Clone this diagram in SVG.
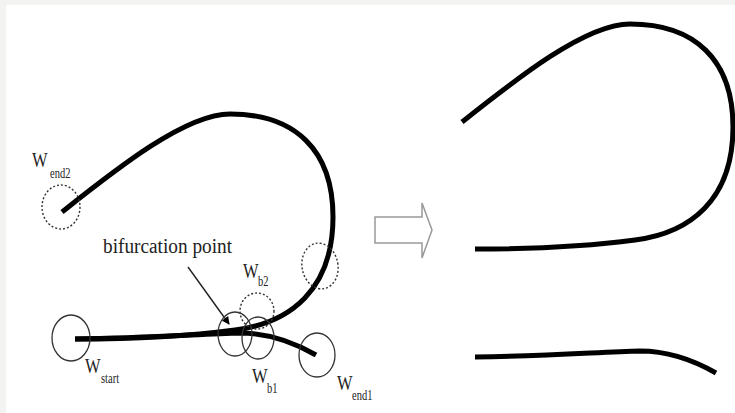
<svg xmlns="http://www.w3.org/2000/svg" width="735" height="413" viewBox="0 0 735 413">
<defs>
<style>
.curve{fill:none;stroke:#000;stroke-width:5;stroke-linecap:butt}
.ring{fill:none;stroke:#333;stroke-width:1.3}
.dash{fill:none;stroke:#333;stroke-width:1.4;stroke-dasharray:2 2}
.w{font-family:"Liberation Serif",serif;font-size:22px;fill:#222}
.s{font-family:"Liberation Serif",serif;font-size:14px;fill:#222}
.lbl{font-family:"Liberation Serif",serif;font-size:20px;fill:#222}
</style>
<marker id="ah" markerWidth="8" markerHeight="8" refX="7" refY="4" orient="auto" markerUnits="userSpaceOnUse">
<path d="M0,0 L8,4 L0,8 Z" fill="#000"/>
</marker>
<path id="loop" d="M75,339 C140,339 190,336 235,330 C290,323 333,290 333,217 C333,150 295,114 230,114 C185,114 115,170 62,212"/>
<path id="lower" d="M75,339 C150,338 200,334 240,333 C270,333 295,343 316,355"/>
</defs>
<rect width="735" height="413" fill="#f3f3f1"/>
<rect x="6" y="5" width="729" height="408" fill="#fff"/>
<g id="connectors">
<use href="#lower" class="curve"/>
<use href="#loop" class="curve"/>
<use href="#loop" class="curve" transform="translate(400,-90)"/>
<use href="#lower" class="curve" transform="translate(400,18)"/>
<line x1="188" y1="267" x2="229" y2="324" stroke="#222" stroke-width="1.4" marker-end="url(#ah)"/>
</g>
<g id="transform-arrow">
<polygon points="375,217 422,217 422,203 432,230 422,258 422,243 375,243" fill="#fff" stroke="#999" stroke-width="1.5"/>
</g>
<g id="w-end2">
<ellipse class="dash" cx="61" cy="207" rx="19" ry="22"/>
<text class="w" transform="translate(32,167) scale(0.75,1)">W</text>
<text class="s" transform="translate(50,178) scale(0.75,1)">end2</text>
</g>
<g id="w-right">
<ellipse class="dash" cx="320" cy="266" rx="18" ry="23" transform="rotate(-10 320 266)"/>
</g>
<g id="w-b2">
<ellipse class="dash" cx="257" cy="311" rx="17" ry="18"/>
<text class="w" transform="translate(243,278) scale(0.75,1)">W</text>
<text class="s" transform="translate(258,286) scale(0.75,1)">b2</text>
</g>
<g id="w-b1">
<ellipse class="ring" cx="235" cy="334" rx="17" ry="22"/>
<ellipse class="ring" cx="258" cy="338" rx="16" ry="21"/>
<text class="w" transform="translate(252,383) scale(0.75,1)">W</text>
<text class="s" transform="translate(267,393) scale(0.75,1)">b1</text>
</g>
<g id="w-start">
<ellipse class="ring" cx="71" cy="338" rx="19" ry="23"/>
<text class="w" transform="translate(85,373) scale(0.75,1)">W</text>
<text class="s" transform="translate(101,383) scale(0.75,1)">start</text>
</g>
<g id="w-end1">
<ellipse class="ring" cx="317" cy="355" rx="18" ry="22"/>
<text class="w" transform="translate(337,390) scale(0.75,1)">W</text>
<text class="s" transform="translate(352,400) scale(0.75,1)">end1</text>
</g>
<g id="bifurcation-label">
<text class="lbl" x="103" y="253" textLength="129" lengthAdjust="spacingAndGlyphs">bifurcation point</text>
</g>
</svg>
